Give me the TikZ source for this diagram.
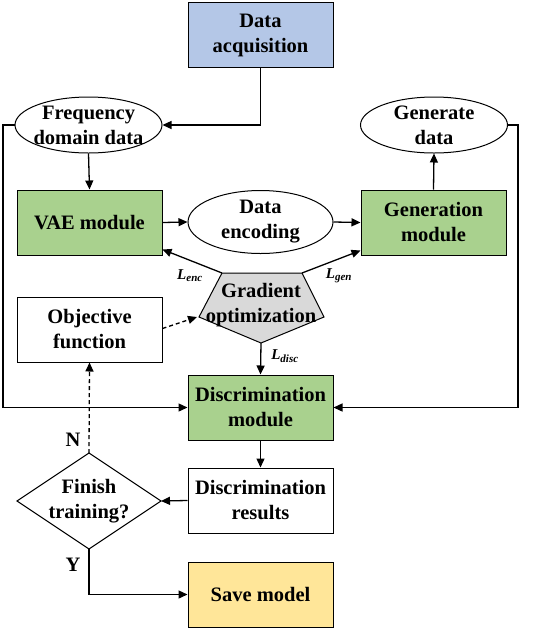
\documentclass[tikz,border=0pt]{standalone}
\usepackage{fontspec}
\setmainfont{Liberation Serif}
\usetikzlibrary{shapes.geometric,arrows.meta,calc}
\definecolor{cblue}{HTML}{B4C7E7}
\definecolor{cgreen}{HTML}{A9D18E}
\definecolor{cgray}{HTML}{D9D9D9}
\definecolor{cyellow}{HTML}{FFE699}
\begin{document}
\begin{tikzpicture}[x=1pt,y=-1pt,
  every node/.style={font=\bfseries\fontsize{20.5}{25}\selectfont, align=center},
  box/.style={draw, line width=1pt, minimum width=145pt, minimum height=65pt, inner sep=0pt},
  oval/.style={draw, ellipse, line width=1pt, minimum width=147pt, minimum height=56pt, inner xsep=-10pt, inner ysep=-6pt, fill=white},
  arr/.style={line width=1.3pt, -{Triangle[length=9pt,width=8pt]}},
  darr/.style={arr, dashed, dash pattern=on 4pt off 3pt},
  lab/.style={font=\bfseries\itshape\fontsize{15}{18}\selectfont, inner sep=0pt}
]
\useasboundingbox (0,0) rectangle (550,630);
% nodes
\node[box, fill=cblue] (acq) at (260.5,35) {Data\\acquisition};
\node[oval] (freq) at (88.5,125) {Frequency\\domain data};
\node[oval] (gend) at (434,125) {Generate\\data};
\node[box, fill=cgreen] (vae) at (89.5,222.5) {VAE module};
\node[oval, minimum width=145pt, minimum height=63pt] (enc) at (260.5,222) {Data\\encoding};
\node[box, fill=cgreen] (genm) at (433.5,222.5) {Generation\\module};
\node[box, fill=white] (obj) at (89.5,329.5) {Objective\\function};
\node[box, fill=cgreen] (disc) at (260.5,407.5) {Discrimination\\module};
\node[box, fill=white] (res) at (260.5,500.5) {Discrimination\\results};
\node[box, fill=cyellow] (save) at (260.5,594.5) {Save model};
% routing points
\coordinate (lft) at (3,125);
\coordinate (rgt) at (518,125);
% pentagon
\coordinate (pa) at (222,273);
\coordinate (pb) at (302,273);
\coordinate (pc) at (324,317);
\coordinate (pd) at (261,343);
\coordinate (pe) at (199,317);
\draw[line width=1pt, fill=cgray] (pa) -- (pb) -- (pc) -- (pd) -- (pe) -- cycle;
\node[inner sep=0pt] (grad) at (261,305) {Gradient\\optimization};
% diamond
\coordinate (dt) at (89,453);
\coordinate (dr) at (161,501);
\coordinate (db) at (89,549);
\coordinate (dl) at (17,501);
\draw[line width=1pt, fill=white] (dt) -- (dr) -- (db) -- (dl) -- cycle;
\node[inner sep=0pt] (dia) at (89,501) {Finish\\training?};
% connectors
\draw[arr] (acq.south) |- (freq.east);
\draw[arr] (freq.west) -- (lft) |- (disc.west);
\draw[arr] (gend.east) -- (rgt) |- (disc.east);
\draw[arr] (freq.south) -- (vae.north);
\draw[arr] (vae.east) -- (enc.west);
\draw[arr] (enc.east) -- (genm.west);
\draw[arr] (genm.north) -- (gend.south);
\draw[arr] (pa) -- ($(vae.south east)+(0,-6)$);
\draw[arr] (pb) -- ($(genm.south west)+(0,-5)$);
\draw[darr] ($(obj.east)+(0,-1)$) -- ($(pe)+(-2,0)$);
\draw[arr] (pd) -- (disc.north);
\draw[arr] (disc.south) -- (res.north);
\draw[arr] (res.west) -- (dr);
\draw[darr] (dt) -- (obj.south);
\draw[arr] (db) |- (save.west);
% labels
\node[lab] (lenc) at (190,276) {L\textsubscript{\fontsize{11}{12}\selectfont enc}};
\node[lab] (lgen) at (339,276) {L\textsubscript{\fontsize{11}{12}\selectfont gen}};
\node[lab] (ldisc) at (285,356) {L\textsubscript{\fontsize{11}{12}\selectfont disc}};
\node[inner sep=0pt] (nlab) at (73,440) {N};
\node[inner sep=0pt] (ylab) at (73,565) {Y};
\end{tikzpicture}
\end{document}
